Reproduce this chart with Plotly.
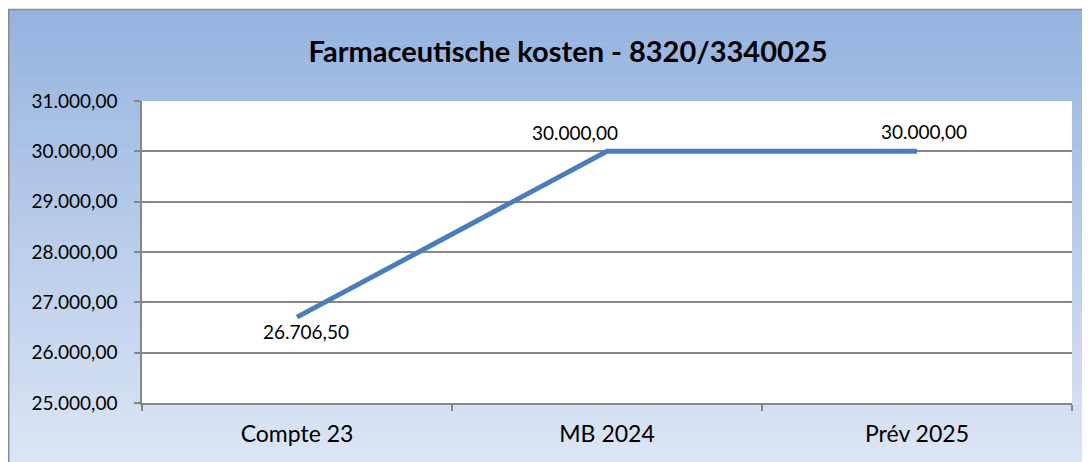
import plotly.graph_objects as go

categories = ["Compte 23", "MB 2024", "Prév 2025"]
values = [26706.50, 30000.00, 30000.00]
y_ticks = [25000, 26000, 27000, 28000, 29000, 30000, 31000]
# label offsets (px) relative to each point: (xshift, yshift)
label_offsets = [(9, -14), (-32, 19), (7, 20)]

# the page has an 8px body margin; figure coordinates are page - 8
W, H = 1082, 454
L, T = 134, 93
R, B = W - 1064, H - 395
PW, PH = W - L - R, H - T - B


def px_x(p):
    return (p - L) / PW


def px_y(p):
    return (H - B - p) / PH


def lerp(c1, c2, t):
    return "rgb(%d,%d,%d)" % tuple(round(a + (b - a) * t) for a, b in zip(c1, c2))


top_c = (149, 179, 223)
bot_c = (220, 229, 244)
shapes = []
y0, y1 = 1, H + 2
n = 80
for i in range(n):
    a = y0 + (y1 - y0) * i / n
    b = y0 + (y1 - y0) * (i + 1) / n + 0.6
    shapes.append(dict(type="rect", xref="paper", yref="paper", layer="below",
                       x0=px_x(0.5), x1=px_x(W + 5), y0=px_y(b), y1=px_y(a),
                       line=dict(width=0), fillcolor=lerp(top_c, bot_c, i / (n - 1))))
shapes.append(dict(type="rect", xref="paper", yref="paper", layer="below",
                   x0=0, x1=1, y0=0, y1=1, line=dict(width=0), fillcolor="white"))
shapes.append(dict(type="rect", xref="paper", yref="paper", layer="below",
                   x0=px_x(0.75), x1=px_x(W + 5), y0=px_y(H + 5), y1=px_y(1.5),
                   line=dict(width=1.5, color="#8c8c8c"), fillcolor="rgba(0,0,0,0)"))

fig = go.Figure()
fig.add_trace(go.Scatter(
    x=categories, y=values, mode="lines",
    line=dict(color="#4a7ebb", width=5),
    hoverinfo="skip", showlegend=False,
))

annotations = []
for c, v, (dx, dy) in zip(categories, values, label_offsets):
    annotations.append(dict(
        x=c, y=v, xref="x", yref="y",
        text=f"{v:,.2f}".replace(",", "X").replace(".", ",").replace("X", "."),
        showarrow=False, xshift=dx, yshift=dy,
        font=dict(family="Lato", size=19, color="#000000"),
    ))

fig.update_layout(
    width=W, height=H,
    margin=dict(l=L, r=R, t=T, b=B, pad=0),
    separators=",.",
    paper_bgcolor="white",
    plot_bgcolor="white",
    shapes=shapes,
    annotations=annotations,
    title=dict(text="<b>Farmaceutische kosten - 8320/3340025</b>",
               x=560 / W, xanchor="center", y=1 - 44 / H, yanchor="middle",
               font=dict(family="Lato", size=29, color="#000000")),
    font=dict(family="Lato", color="#000000"),
    xaxis=dict(
        type="category", range=[-0.5, 2.5],
        showline=True, linecolor="#868686", linewidth=1.5,
        ticks="outside", tickson="boundaries", ticklen=6, tickcolor="#868686",
        tickwidth=1.5, showgrid=False, ticklabelstandoff=10,
        tickfont=dict(family="Lato", size=23, color="#000000"),
    ),
    yaxis=dict(
        range=[25000, 31000], tickvals=y_ticks, tickformat=",.2f",
        showline=True, linecolor="#868686", linewidth=1.5,
        ticks="outside", ticklen=6, tickcolor="#868686", tickwidth=1.5,
        showgrid=True, gridcolor="#868686", gridwidth=1.5, zeroline=False,
        ticklabelstandoff=13,
        tickfont=dict(family="Lato", size=19, color="#000000"),
    ),
)

fig.write_html("out.html")
